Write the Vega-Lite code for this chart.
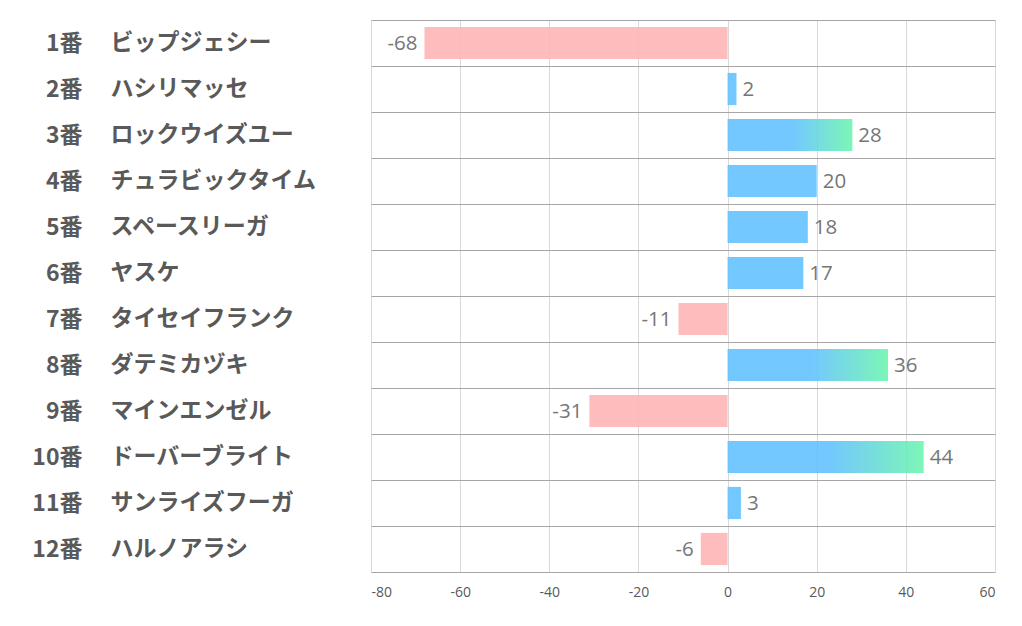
{
  "$schema": "https://vega.github.io/schema/vega-lite/v6.json",
  "autosize": {"type": "none"},
  "width": 624,
  "height": 552,
  "padding": {"left": 371, "top": 20, "right": 27, "bottom": 54},
  "background": "white",
  "config": {
    "locale": {
      "number": {"decimal": ".", "thousands": ",", "grouping": [3], "currency": ["$", ""], "minus": "-"}
    },
    "view": {"stroke": null},
    "axisX": {
      "grid": true, "gridColor": "#D9D9D9", "gridWidth": 1,
      "domain": false, "ticks": false, "tickSize": 0,
      "labelFont": "Open Sans", "labelFontSize": 14, "labelColor": "#595959",
      "labelPadding": 13, "title": null, "tickCount": 7
    }
  },
  "data": {
    "values": [
      {"horse": "1番 ビップジェシー", "value": -68},
      {"horse": "2番 ハシリマッセ", "value": 2},
      {"horse": "3番 ロックウイズユー", "value": 28},
      {"horse": "4番 チュラビックタイム", "value": 20},
      {"horse": "5番 スペースリーガ", "value": 18},
      {"horse": "6番 ヤスケ", "value": 17},
      {"horse": "7番 タイセイフランク", "value": -11},
      {"horse": "8番 ダテミカヅキ", "value": 36},
      {"horse": "9番 マインエンゼル", "value": -31},
      {"horse": "10番 ドーバーブライト", "value": 44},
      {"horse": "11番 サンライズフーガ", "value": 3},
      {"horse": "12番 ハルノアラシ", "value": -6}
    ]
  },
  "resolve": {"axis": {"y": "independent"}},
  "layer": [
    {
      "mark": {"type": "bar", "height": {"band": 0.7}, "opacity": 0.88},
      "encoding": {
        "y": {
          "field": "horse", "type": "nominal", "sort": null,
          "scale": {"paddingInner": 0, "paddingOuter": 0},
          "axis": {
            "orient": "left",
            "labelExpr": "datum.value ? split(datum.value, ' ')[0] : ''",
            "labelAlign": "right", "labelBaseline": "middle",
            "labelPadding": 289, "tickSize": 0, "ticks": false, "domain": false,
            "labelFont": "Noto Sans CJK JP", "labelFontWeight": "bold",
            "labelFontSize": 23, "labelColor": "#595959", "labelLimit": 300,
            "grid": true, "tickBand": "extent", "gridColor": "#A6A6A6",
            "title": null
          }
        },
        "x": {"field": "value", "type": "quantitative", "scale": {"domain": [-80, 60], "nice": false}},
        "x2": {"datum": 0},
        "color": {
          "condition": [
            {"test": "datum.value < 0", "value": "#FFB3B3"},
            {"test": "datum.value > 20", "value": "transparent"}
          ],
          "value": "#60C0FF"
        }
      }
    },
    {
      "mark": {
        "type": "bar", "height": {"band": 0.7},
        "fill": {
          "x1": 0, "y1": 0, "x2": 1, "y2": 0,
          "gradient": "linear",
          "stops": [
            {"offset": 0, "color": "#60C0FF"},
            {"offset": 0.52, "color": "#60C0FF"},
            {"offset": 1, "color": "#6AF5AC"}
          ]
        }
      },
      "encoding": {
        "y": {"field": "horse", "type": "nominal", "sort": null, "axis": null},
        "x": {"field": "value", "type": "quantitative"},
        "x2": {"datum": 0},
        "opacity": {"condition": {"test": "datum.value > 20", "value": 0.88}, "value": 0}
      }
    },
    {
      "mark": {"type": "text", "align": "left", "baseline": "middle", "dx": 6, "dy": 1, "font": "Open Sans", "fontSize": 20.5, "color": "#767676"},
      "encoding": {
        "y": {
          "field": "horse", "type": "nominal", "sort": null,
          "axis": {
            "orient": "left",
            "labelExpr": "datum.value ? split(datum.value, ' ')[1] : ''",
            "labelAlign": "left", "labelBaseline": "middle",
            "labelPadding": 261, "tickSize": 0, "ticks": false, "domain": false,
            "labelFont": "Noto Sans CJK JP", "labelFontWeight": "bold",
            "labelFontSize": 23, "labelColor": "#595959", "labelLimit": 300,
            "grid": false, "title": null
          }
        },
        "x": {"field": "value", "type": "quantitative"},
        "text": {"condition": {"test": "datum.value > 0", "field": "value", "type": "quantitative"}, "value": ""}
      }
    },
    {
      "mark": {"type": "text", "align": "right", "baseline": "middle", "dx": -7, "dy": 1, "font": "Open Sans", "fontSize": 20.5, "color": "#767676"},
      "encoding": {
        "y": {"field": "horse", "type": "nominal", "sort": null, "axis": null},
        "x": {"field": "value", "type": "quantitative"},
        "text": {"condition": {"test": "datum.value < 0", "field": "value", "type": "quantitative"}, "value": ""}
      }
    }
  ]
}
